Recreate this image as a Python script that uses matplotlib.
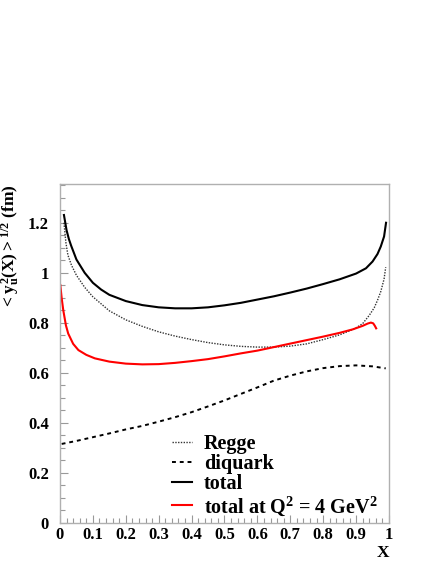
import matplotlib
matplotlib.use("Agg")
import matplotlib.pyplot as plt
from matplotlib.ticker import MultipleLocator, FixedLocator

# Valores
x_total = [0.012, 0.02, 0.027, 0.034, 0.05, 0.075, 0.1, 0.125, 0.15, 0.2, 0.25, 0.3, 0.35,
           0.4, 0.45, 0.5, 0.55, 0.6, 0.65, 0.7, 0.75, 0.8, 0.85, 0.9, 0.93, 0.95, 0.965,
           0.975, 0.985, 0.991]
y_total = [1.231, 1.17, 1.135, 1.108, 1.053, 1.0, 0.96, 0.933, 0.912, 0.887, 0.871, 0.862,
           0.858, 0.858, 0.862, 0.87, 0.88, 0.893, 0.906, 0.921, 0.937, 0.955, 0.974, 0.997,
           1.018, 1.045, 1.075, 1.105, 1.145, 1.2]

x_regge = [0.012, 0.018, 0.024, 0.035, 0.05, 0.075, 0.1, 0.15, 0.2, 0.25, 0.3, 0.35, 0.4,
           0.45, 0.5, 0.55, 0.6, 0.65, 0.7, 0.75, 0.8, 0.85, 0.88, 0.9, 0.92, 0.94, 0.955,
           0.965, 0.975, 0.985, 0.99]
y_regge = [1.2, 1.12, 1.071, 1.03, 0.99, 0.942, 0.904, 0.848, 0.812, 0.786, 0.764, 0.747,
           0.733, 0.721, 0.712, 0.706, 0.703, 0.703, 0.707, 0.716, 0.733, 0.752, 0.768, 0.78,
           0.797, 0.83, 0.86, 0.89, 0.925, 0.975, 1.022]

x_diquark = [0.005, 0.05, 0.1, 0.15, 0.2, 0.25, 0.3, 0.35, 0.4, 0.45, 0.5, 0.55, 0.6, 0.65,
             0.7, 0.75, 0.8, 0.85, 0.9, 0.95, 0.99]
y_diquark = [0.316, 0.328, 0.343, 0.358, 0.374, 0.388, 0.405, 0.423, 0.443, 0.466, 0.49,
             0.516, 0.542, 0.569, 0.589, 0.606, 0.619, 0.627, 0.63, 0.626, 0.618]

x_q2 = [0.001, 0.005, 0.01, 0.018, 0.025, 0.04, 0.056, 0.08, 0.106, 0.15, 0.2, 0.25, 0.3,
        0.35, 0.4, 0.45, 0.5, 0.55, 0.6, 0.65, 0.7, 0.75, 0.8, 0.85, 0.89, 0.92, 0.935,
        0.945, 0.952, 0.957, 0.961]
y_q2 = [0.951, 0.9, 0.85, 0.79, 0.757, 0.716, 0.691, 0.672, 0.658, 0.645, 0.637, 0.634,
        0.635, 0.64, 0.647, 0.655, 0.666, 0.678, 0.689, 0.703, 0.717, 0.731, 0.745, 0.76,
        0.774, 0.788, 0.797, 0.801, 0.798, 0.788, 0.778]

labels = ["Regge", "diquark", "total", r"total at Q$^2$ = 4 GeV$^2$"]

x_ticks = [0, 0.1, 0.2, 0.3, 0.4, 0.5, 0.6, 0.7, 0.8, 0.9, 1]
x_ticklabels = ["0", "0.1", "0.2", "0.3", "0.4", "0.5", "0.6", "0.7", "0.8", "0.9", "1"]
y_ticks = [0, 0.2, 0.4, 0.6, 0.8, 1.0, 1.2]
y_ticklabels = ["0", "0.2", "0.4", "0.6", "0.8", "1", "1.2"]

plt.rcParams['font.family'] = ['Liberation Serif', 'DejaVu Serif']
plt.rcParams['font.weight'] = 'bold'
plt.rcParams['mathtext.fontset'] = 'custom'
plt.rcParams['mathtext.rm'] = 'Liberation Serif:bold'
plt.rcParams['mathtext.it'] = 'Liberation Serif:bold'
plt.rcParams['mathtext.bf'] = 'Liberation Serif:bold'

fig = plt.figure(figsize=(4.36, 5.64), dpi=100)
ax = fig.add_axes([0.1376, 0.0727, 0.7546, 0.6011])

ax.plot(x_regge, y_regge, color='#333333', lw=1.0, ls=(0, (1, 1)), label=labels[0])
ax.plot(x_diquark, y_diquark, color='black', lw=1.4, ls=(0, (2, 2)), label=labels[1])
ax.plot(x_total, y_total, color='black', lw=1.5, label=labels[2])
ax.plot(x_q2, y_q2, color='red', lw=1.5, label=labels[3])

ax.set_xlim(0, 1)
ax.set_ylim(0, 1.355)

ax.xaxis.set_major_locator(FixedLocator(x_ticks))
ax.set_xticklabels(x_ticklabels)
ax.yaxis.set_major_locator(FixedLocator(y_ticks))
ax.set_yticklabels(y_ticklabels)
ax.xaxis.set_minor_locator(MultipleLocator(0.02))
ax.yaxis.set_minor_locator(MultipleLocator(0.05))
ax.tick_params(which='both', direction='in', top=False, right=False, color='#999999',
               labelsize=12)
ax.tick_params(which='major', length=6, width=0.8)
ax.tick_params(which='minor', length=3.5, width=0.8)
ax.tick_params(axis='x', pad=3)
ax.tick_params(axis='y', pad=8)
for s in ax.spines.values():
    s.set_color('#b0b0b0')
    s.set_linewidth(1.0)

ax.set_ylabel(r"$< y_u^2(X) >^{1/2}$ (fm)", fontsize=12.5, fontweight='bold',
              loc='top', labelpad=5)
ax.set_xlabel("X", fontsize=12.5, fontweight='bold', loc='right', labelpad=1)

ax.legend(loc='upper left', bbox_to_anchor=(0.34, 0.262), frameon=False,
          prop={'size': 14.5, 'weight': 'bold'}, handlelength=1.0,
          handletextpad=0.6, labelspacing=0.0, borderpad=0, borderaxespad=0)

fig.savefig("out.png", dpi=100)
